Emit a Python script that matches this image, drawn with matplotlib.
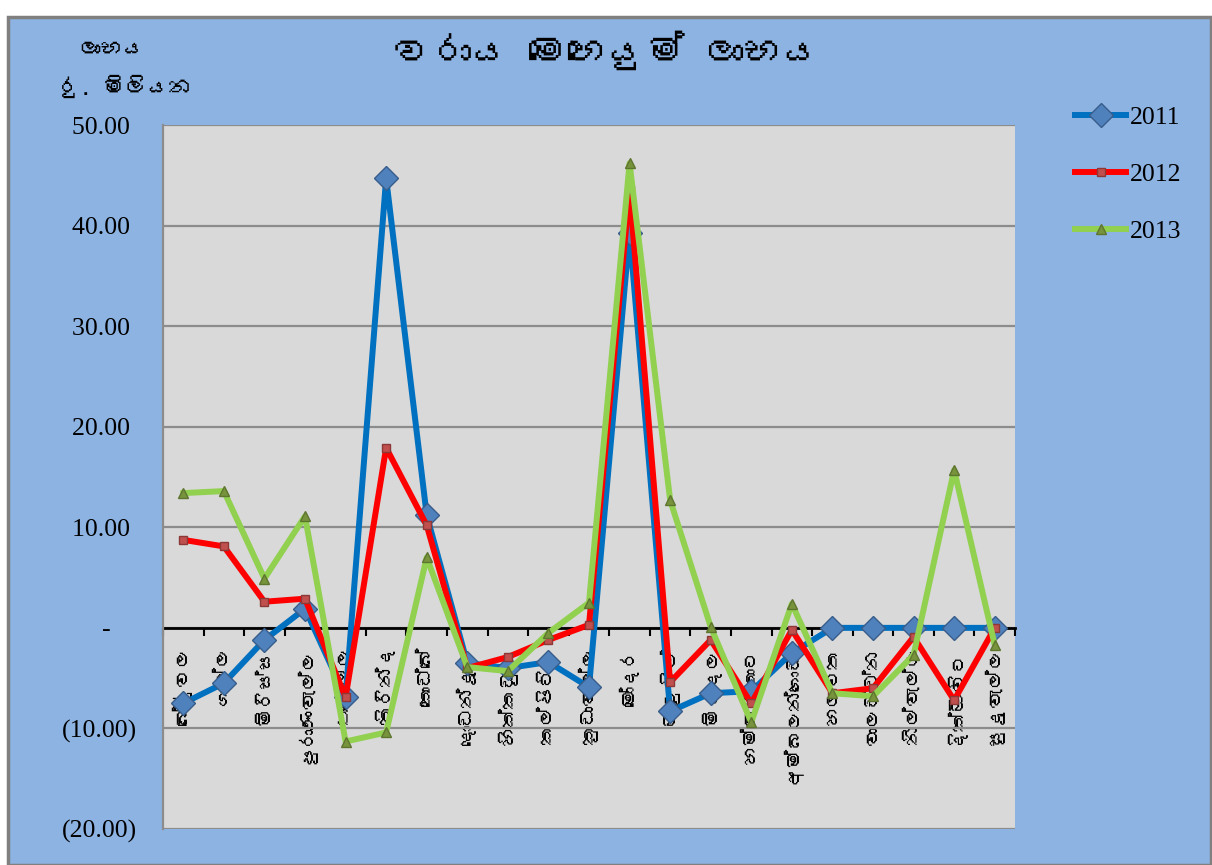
import matplotlib
matplotlib.use("Agg")
import matplotlib.pyplot as plt
from matplotlib import font_manager
from matplotlib.patches import Rectangle
from matplotlib.ticker import FixedLocator, FuncFormatter
from fontTools.ttLib import TTFont

# harbours (Sinhala names)
categories = ["බේරුවල", "ගාල්ල", "මිරිස්ස", "පුරාණවැල්ල", "තංගල්ල", "කිරින්ද", "කොඩ්බේ",
              "දොඩන්දූව", "හික්කඩුව", "කල්පිටිය", "කුඩාවැල්ල", "මෝදර", "ඔලුවිල්", "මිද්දෙල",
              "හම්බන්තොට", "අම්බලන්ගොඩ", "හලාවත", "වාලච්චේන", "නිල්වැල්ල", "දික්ඕවිට", "සුදුවැල්ල"]

profit_2011 = [-7.5, -5.5, -1.2, 1.9, -6.9, 44.7, 11.2, -3.5, -4.0, -3.4, -5.9, 39.3,
               -8.3, -6.5, -6.3, -2.5, 0.0, 0.0, 0.0, 0.0, 0.0]
profit_2012 = [8.75, 8.1, 2.6, 2.9, -6.9, 17.9, 10.2, -4.0, -2.9, -1.2, 0.3, 43.5,
               -5.4, -1.2, -7.5, -0.2, -6.5, -6.0, -0.9, -7.2, 0.0]
profit_2013 = [13.4, 13.6, 4.9, 11.1, -11.3, -10.4, 7.0, -3.9, -4.3, -0.5, 2.5, 46.2,
               12.7, 0.1, -9.4, 2.4, -6.5, -6.8, -2.7, 15.7, -1.7]

title = "වරාය මෙහෙයුම් ලාභය"
ylabel_1 = "ලාභය"
ylabel_2 = "රු. මිලියන"


def find_sinhala_font():
    for f in font_manager.fontManager.ttflist:
        try:
            tt = TTFont(f.fname, fontNumber=0, lazy=True)
            cmap = tt.getBestCmap()
            if cmap and 0x0DBD in cmap:
                return f.name
        except Exception:
            continue
    return None


si_font = find_sinhala_font()
si_family = [si_font, "DejaVu Sans"] if si_font else ["Noto Sans", "DejaVu Sans"]
serif = "Liberation Serif"

fig = plt.figure(figsize=(12.12, 8.65), dpi=100, facecolor="white")
# chart area background with grey frame
fig.patches.append(Rectangle((8 / 1212, 0), 1 - 9 / 1212, 1 - 17 / 865, transform=fig.transFigure,
                             facecolor="#8DB3E2", edgecolor="#808080", linewidth=2.5, zorder=-5))

ax = fig.add_axes([163 / 1212, 1 - 829 / 865, 852 / 1212, 704 / 865])
ax.set_facecolor("#D9D9D9")
ax.set_zorder(2)

x = list(range(len(categories)))
ax.plot(x, profit_2011, color="#0070C0", linewidth=4.3, marker="D", markersize=12,
        markerfacecolor="#4F81BD", markeredgecolor="#385D8A", label="2011", zorder=3)
ax.plot(x, profit_2012, color="#FF0000", linewidth=4.3, marker="s", markersize=6,
        markerfacecolor="#C0504D", markeredgecolor="#8C3836", label="2012", zorder=4)
ax.plot(x, profit_2013, color="#92D050", linewidth=4.3, marker="^", markersize=7,
        markerfacecolor="#77933C", markeredgecolor="#5E7530", label="2013", zorder=5)

ax.set_xlim(-0.5, len(categories) - 0.5)
ax.set_ylim(-20, 50)

# y axis, accounting style labels
ax.yaxis.set_major_locator(FixedLocator([-20, -10, 0, 10, 20, 30, 40, 50]))


def fmt(v, pos):
    if abs(v) < 1e-9:
        return "-    "
    if v < 0:
        return f"({abs(v):.2f})"
    return f"{v:.2f} "


ax.yaxis.set_major_formatter(FuncFormatter(fmt))
ax.tick_params(axis="y", length=0, pad=19, labelsize=18.5)
for lab in ax.get_yticklabels():
    lab.set_family(serif)
ax.grid(axis="y", color="#8C8C8C", linewidth=1.6, zorder=1)
ax.set_axisbelow(True)

# x axis crossing at zero
ax.spines["bottom"].set_position(("data", 0))
ax.spines["bottom"].set_color("black")
ax.spines["bottom"].set_linewidth(2)
ax.spines["bottom"].set_zorder(2)
ax.spines["top"].set_visible(False)
ax.spines["right"].set_visible(False)
ax.spines["left"].set_color("#8C8C8C")
ax.spines["left"].set_linewidth(1.6)

ax.set_xticks(x)
ax.set_xticklabels(categories, rotation=90, fontsize=14, family=si_family)
ax.set_xticks([i + 0.5 for i in range(-1, len(categories))], minor=True)
ax.tick_params(axis="x", which="major", length=0, pad=14)
ax.tick_params(axis="x", which="minor", length=6, width=1.5, color="black", direction="out")

# texts
fig.text(607 / 1212, 1 - 50 / 865, title, ha="center", va="center", fontsize=28,
         fontweight="bold", family=si_family)
fig.text(112 / 1212, 1 - 50 / 865, ylabel_1, ha="center", va="center", fontsize=16, family=si_family)
fig.text(125 / 1212, 1 - 86 / 865, ylabel_2, ha="center", va="center", fontsize=16, family=si_family)

leg = ax.legend(loc="upper left", bbox_to_anchor=(1062 / 1212, 1 - 93 / 865),
                bbox_transform=fig.transFigure, frameon=False, handlelength=2.0,
                labelspacing=1.32, borderpad=0, handletextpad=0.15,
                prop={"family": serif, "size": 18.5})

fig.savefig("out.png", dpi=100)
plt.close(fig)
